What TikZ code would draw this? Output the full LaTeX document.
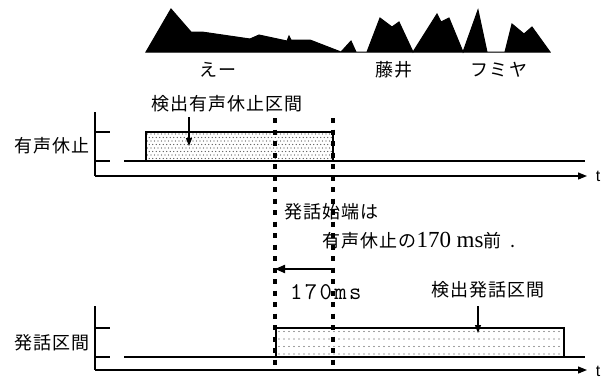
\documentclass[tikz,border=0pt]{standalone}
\usepackage{fontspec}
\usetikzlibrary{arrows.meta}
\newfontfamily\jp{Noto Sans CJK JP}[LetterSpace=6]
\newfontfamily\serifnum{Liberation Serif}
\newfontfamily\mono{Latin Modern Mono}[LetterSpace=10]
\newfontfamily\sansf{Liberation Sans}
\tikzset{
  lbl/.style={inner sep=0pt, font=\jp\fontsize{18}{18}\selectfont},
  axis/.style={line width=1.2pt},
  thin/.style={line width=1.1pt},
  boxline/.style={line width=1.2pt},
  marker/.style={line width=3.8pt, dash pattern=on 5pt off 6.5pt},
  pointer/.style={line width=1.1pt, -{Triangle[length=8pt,width=6pt]}},
  tarrow/.style={line width=1.2pt, -{Triangle[length=9pt,width=7pt]}},
}
\begin{document}
\begin{tikzpicture}[x=1pt,y=-1pt]
\useasboundingbox (0,0) rectangle (603,381);
% waveform
\filldraw[line width=1pt, line join=miter]
 (146,52) -- (171,9) -- (191,32) -- (202,32) -- (250,39) -- (259,35) -- (287,41)
 -- (289,36) -- (291,40) -- (310,40) -- (341,52) -- (351,41) -- (356,52) -- (367,52)
 -- (380,18) -- (392,27) -- (399,22) -- (413,52) -- (437,14) -- (441,22) -- (449,18)
 -- (463,52) -- (478,10) -- (487,52) -- (505,52) -- (512,24) -- (524,34) -- (532,27)
 -- (550,52) -- cycle;
\node[lbl] (w1) at (218,70) {えー};
\node[lbl] (w2) at (394,70) {藤井};
\node[lbl] (w3) at (499,70) {フミヤ};

% row 1
\node[lbl, anchor=east] (r1) at (90,146) {有声休止};
\draw[axis] (95,112) -- (95,176);
\draw[thin] (95,132) -- (110,132);
\draw[thin] (95,161) -- (110,161);
\draw[thin] (124,161) -- (585,161);
\coordinate (t1s) at (95,176);
\coordinate (t1e) at (587,176);
\draw[tarrow] (t1s) -- (t1e);
\node[inner sep=0pt, font=\sansf\fontsize{16}{16}\selectfont] (t1) at (598,176) {t};
\begin{scope}
\clip (146,132) rectangle (333,161);
\foreach \j in {0,...,8} {
  \pgfmathsetmacro\off{mod(\j,2)*1.75}
  \foreach \i in {0,...,54} {
    \fill[black!70] ({147.5+\off+3.5*\i},{134+3.5*\j}) circle (0.65);
  }
}
\end{scope}
\draw[boxline] (146,132) rectangle (333,161);
\node[lbl] (d1) at (227,104) {検出有声休止区間};
\coordinate (d1tip) at (189,146);
\draw[pointer] (189,117) -- (d1tip);

% row 2
\node[lbl, anchor=east] (r2) at (90,343) {発話区間};
\draw[axis] (95,306) -- (95,370);
\draw[thin] (95,328) -- (110,328);
\draw[thin] (95,357) -- (110,357);
\draw[thin] (124,357) -- (585,357);
\coordinate (t2s) at (95,370);
\coordinate (t2e) at (587,370);
\draw[tarrow] (t2s) -- (t2e);
\node[inner sep=0pt, font=\sansf\fontsize{16}{16}\selectfont] (t2) at (598,371) {t};
\begin{scope}
\clip (276,328) rectangle (564,357);
\foreach \j in {0,...,3} {
  \foreach \i in {0,...,57} {
    \fill[black!75] ({279+5*\i},{331.5+7.5*\j}) circle (0.65);
  }
}
\end{scope}
\draw[boxline] (276,328) rectangle (564,357);
\node[lbl] (d2) at (488,290) {検出発話区間};
\coordinate (d2tip) at (478,333);
\draw[pointer] (478,306) -- (d2tip);

% markers
\coordinate (m1a) at (275,118);
\coordinate (m1b) at (275,367);
\coordinate (m2a) at (333,118);
\coordinate (m2b) at (333,367);
\draw[marker] (m1a) -- (m1b);
\draw[marker] (m2a) -- (m2b);

% annotation
\node[lbl, anchor=west] (n1) at (284,212) {発話始端は};
\node[inner sep=0pt, anchor=west] (n2) at (322,241)
  {\jp\fontsize{18}{18}\selectfont 有声休止の\serifnum\fontsize{23}{23}\selectfont 170 ms\jp\fontsize{18}{18}\selectfont 前\hspace{9pt}.};
\coordinate (a1) at (333,269);
\coordinate (a2) at (275,269);
\draw[line width=2pt, -{Triangle[length=10pt,width=8pt]}] (a1) -- (a2);
\node[inner sep=0pt, anchor=west, font=\mono\fontsize{24}{24}\selectfont] (ms) at (290,292) {170ms};
\end{tikzpicture}
\end{document}
